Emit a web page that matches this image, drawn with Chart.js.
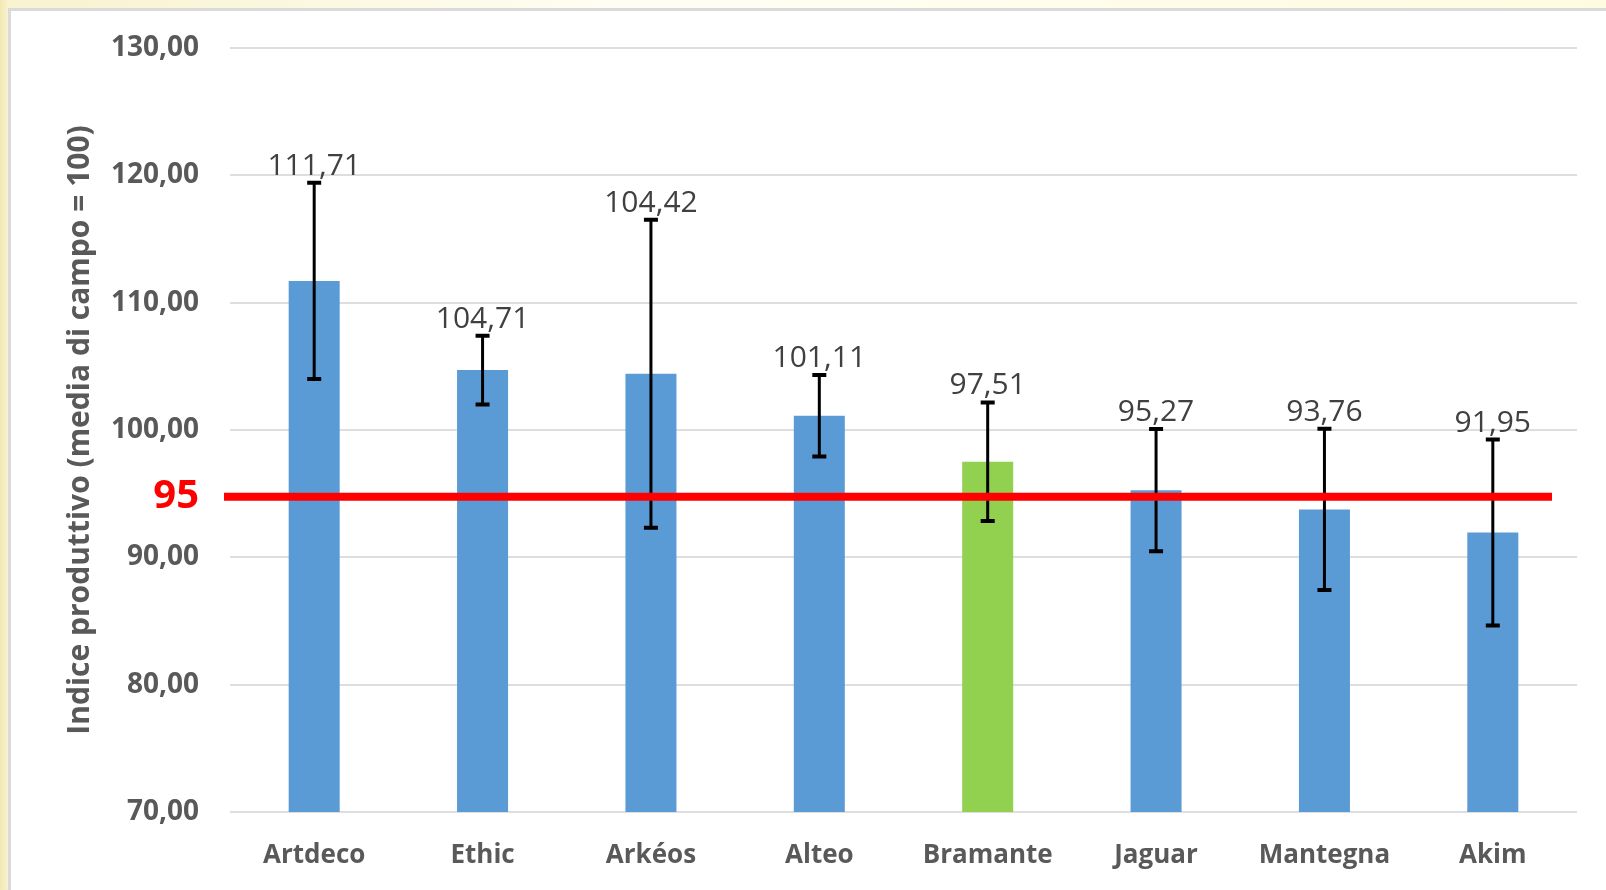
<!DOCTYPE html>
<html>
<head>
<meta charset="utf-8">
<script src="https://cdn.jsdelivr.net/npm/chart.js@4.4.1/dist/chart.umd.min.js"></script>
<style>
  html, body { margin: 0; padding: 0; }
  body {
    width: 1606px; height: 890px; overflow: hidden; position: relative;
    background: linear-gradient(90deg, #f2e9b4 0px, #f8f2cf 8px, #fffef4 40%, #fffbe0 100%);
  }
  #frame {
    position: absolute; left: 8px; top: 8px; right: 0; bottom: 0;
    background: #fff;
    border-left: 3px solid #dadada; border-top: 3px solid #dadada;
  }
  #wrap { position: absolute; left: 0; top: 0; width: 1606px; height: 890px; }
</style>
</head>
<body>
<div id="frame"></div>
<div id="wrap"><canvas id="chartIndice"></canvas></div>
<script>
// --- dati ---
const categorie = ['Artdeco', 'Ethic', 'Arkéos', 'Alteo', 'Bramante', 'Jaguar', 'Mantegna', 'Akim'];
const valori = [111.71, 104.71, 104.42, 101.11, 97.51, 95.27, 93.76, 91.95];
const errori = [7.7, 2.7, 12.1, 3.2, 4.65, 4.8, 6.33, 7.3];
const tickY = [70, 80, 90, 100, 110, 120, 130];
const soglia = 95;

// --- colori ---
const colBlu = '#5b9bd5';
const colVerde = '#92d050';
const colTesto = '#595959';
const colGriglia = '#dedede';

Chart.defaults.font.family = "'Open Sans', sans-serif";

const fmt = v => v.toFixed(2).replace('.', ',');

// barre di errore + etichette dati
const pluginErrori = {
    id: 'errori',
    afterDatasetsDraw(chart) {
        const ctx = chart.ctx;
        const y = chart.scales.y;
        const meta = chart.getDatasetMeta(0);
        ctx.save();
        meta.data.forEach((bar, i) => {
            const yTop = y.getPixelForValue(valori[i] + errori[i]);
            const yBot = y.getPixelForValue(valori[i] - errori[i]);
            ctx.strokeStyle = '#000';
            ctx.lineWidth = 3;
            ctx.beginPath();
            ctx.moveTo(bar.x, yTop);
            ctx.lineTo(bar.x, yBot);
            ctx.stroke();
            ctx.lineWidth = 4;
            ctx.beginPath();
            ctx.moveTo(bar.x - 7, yTop); ctx.lineTo(bar.x + 7, yTop);
            ctx.moveTo(bar.x - 7, yBot); ctx.lineTo(bar.x + 7, yBot);
            ctx.stroke();

            ctx.fillStyle = '#404040';
            ctx.font = "30px 'Open Sans'";
            ctx.textAlign = 'center';
            ctx.textBaseline = 'alphabetic';
            ctx.fillText(fmt(valori[i]), bar.x, yTop - 8);
        });
        ctx.restore();
    },
    afterDraw(chart) {
        // linea rossa a 95 (nell'originale e' tracciata un filo sotto)
        const ctx = chart.ctx;
        const area = chart.chartArea;
        const yy = chart.scales.y.getPixelForValue(soglia) + 3;
        ctx.save();
        ctx.strokeStyle = '#ff0000';
        ctx.lineWidth = 8;
        ctx.beginPath();
        ctx.moveTo(area.left - 6, yy);
        ctx.lineTo(area.right - 25, yy);
        ctx.stroke();
        ctx.fillStyle = '#ff0000';
        ctx.font = "bold 40px 'Open Sans'";
        ctx.textAlign = 'right';
        ctx.textBaseline = 'middle';
        ctx.fillText(String(soglia), area.left - 31, yy);
        ctx.restore();
    }
};

document.addEventListener('DOMContentLoaded', function() {
    const ctxIndice = document.getElementById('chartIndice');
    new Chart(ctxIndice, {
        type: 'bar',
        data: {
            labels: categorie,
            datasets: [{
                data: valori,
                backgroundColor: categorie.map(c => c === 'Bramante' ? colVerde : colBlu),
                borderWidth: 0,
                categoryPercentage: 1,
                barPercentage: 0.303
            }]
        },
        options: {
            responsive: true,
            maintainAspectRatio: false,
            animation: false,
            layout: { padding: { left: 20, top: 48, right: 29, bottom: 0 } },
            plugins: {
                legend: { display: false },
                tooltip: { enabled: false }
            },
            scales: {
                y: {
                    min: 70,
                    max: 130,
                    afterBuildTicks: s => { s.ticks = tickY.map(v => ({ value: v })); },
                    afterFit: s => { s.width = 210; },
                    border: { display: false },
                    grid: { color: colGriglia, lineWidth: 2, drawTicks: false },
                    ticks: {
                        padding: 31,
                        color: colTesto,
                        font: { size: 28, weight: 'bold' },
                        callback: v => fmt(v)
                    },
                    title: {
                        display: true,
                        text: 'Indice produttivo (media di campo = 100)',
                        color: colTesto,
                        font: { size: 30, weight: 'bold' },
                        padding: { top: 42, bottom: 0 }
                    }
                },
                x: {
                    afterFit: s => { s.height = 78; },
                    border: { display: false },
                    grid: { display: false },
                    ticks: {
                        padding: 20,
                        color: colTesto,
                        font: { size: 26, weight: 'bold' }
                    }
                }
            }
        },
        plugins: [pluginErrori]
    });
});
</script>
</body>
</html>
